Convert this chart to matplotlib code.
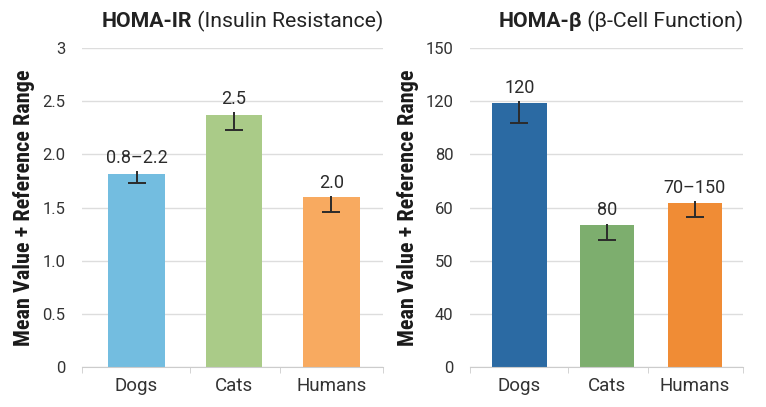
import numpy as np
import matplotlib
matplotlib.use("Agg")
import matplotlib.pyplot as plt

plt.rcParams['font.family'] = ['Roboto', 'DejaVu Sans']

categories = ['Dogs', 'Cats', 'Humans']

# HOMA-IR panel
ir_means = [1.815, 2.37, 1.60]
ir_err_hi = [1.84, 2.40, 1.61]
ir_err_lo = [1.73, 2.23, 1.455]
ir_labels = ['0.8–2.2', '2.5', '2.0']
ir_ticks = [0, 0.5, 1.0, 1.5, 2.0, 2.5, 3]
ir_ticklabels = ['0', '0.5', '1.0', '1.5', '2.0', '2.5', '3']
ir_colors = ['#73BDE0', '#AACB88', '#F8AA60']

# HOMA-beta panel (axis labels are unevenly spaced values on even steps)
b_means = [119.0, 56.7, 61.7]
b_err_hi = [120.0, 57.0, 62.4]
b_err_lo = [103.5, 53.9, 58.3]
b_labels = ['120', '80', '70–150']
b_ticks = [0, 40, 50, 60, 80, 120, 150]
b_colors = ['#2B6AA3', '#7DAE6E', '#F08C35']


def fwd(v):
    return np.interp(v, b_ticks, np.arange(len(b_ticks)))


def inv(p):
    return np.interp(p, np.arange(len(b_ticks)), b_ticks)


fig = plt.figure(figsize=(7.66, 4.07), dpi=100)
ax1 = fig.add_axes([0.107, 0.098, 0.393, 0.784])
ax2 = fig.add_axes([0.614, 0.098, 0.356, 0.784])


def panel(ax, means, hi, lo, labels, colors, width, xl, label_off):
    x = np.arange(len(categories))
    ax.bar(x, means, width=width, color=colors, zorder=2)
    ax.vlines(x, lo, hi, color='#2b2b2b', lw=1.4, zorder=3)
    ax.scatter(x, lo, marker='_', s=170, color='#2b2b2b', linewidths=1.4, zorder=3)
    for xi, top, t in zip(x, hi, labels):
        ax.annotate(t, (xi, top), xytext=(0, label_off), textcoords='offset points',
                    ha='center', va='bottom', fontsize=13, color='#2b2b2b')
    ax.set_xlim(*xl)
    ax.set_xticks(x)
    ax.set_xticklabels(categories, fontsize=13.5, color='#333333')
    ax.set_xticks([xl[0], 0.55, 1.47, xl[1]], minor=True)
    ax.tick_params(axis='x', which='major', length=0, pad=7)
    ax.tick_params(axis='x', which='minor', length=4, color='#cccccc')
    ax.tick_params(axis='y', length=0, labelsize=12, labelcolor='#333333', pad=12)
    for s in ['top', 'right', 'left']:
        ax.spines[s].set_visible(False)
    ax.spines['bottom'].set_color('#cccccc')
    ax.grid(axis='y', color='#dddddd', lw=1, zorder=0)
    ax.set_axisbelow(True)
    ax.set_ylabel('Mean Value + Reference Range', fontsize=16, fontweight='bold',
                  family=['Liberation Sans Narrow', 'Roboto Condensed', 'DejaVu Sans'],
                  color='#1a1a1a', labelpad=5)


panel(ax1, ir_means, ir_err_hi, ir_err_lo, ir_labels, ir_colors, 0.58, (-0.56, 2.53), 3)
ax1.set_ylim(0, 3)
ax1.set_yticks(ir_ticks)
ax1.set_yticklabels(ir_ticklabels)

ax2.set_yscale('function', functions=(fwd, inv))
panel(ax2, b_means, b_err_hi, b_err_lo, b_labels, b_colors, 0.62, (-0.56, 2.55), 3)
ax2.set_ylim(0, 150)
ax2.set_yticks(b_ticks)
ax2.set_yticklabels([str(t) for t in b_ticks])
ax2.yaxis.set_minor_locator(matplotlib.ticker.NullLocator())

# titles: bold part + regular part, right-aligned with the plot area
renderer = fig.canvas.get_renderer()
for ax, bold, reg in [(ax1, 'HOMA-IR', ' (Insulin Resistance)'),
                      (ax2, 'HOMA-β', ' (β-Cell Function)')]:
    t2 = ax.text(1.0, 1.065, reg, transform=ax.transAxes, ha='right', va='baseline',
                 fontsize=15.3, color='#222222')
    bb = t2.get_window_extent(renderer)
    x0 = ax.transAxes.inverted().transform((bb.x0, bb.y0))[0]
    ax.text(x0, 1.065, bold, transform=ax.transAxes, ha='right', va='baseline',
            fontsize=15.3, fontweight='bold', color='#222222')

fig.savefig('out.png', dpi=100)
